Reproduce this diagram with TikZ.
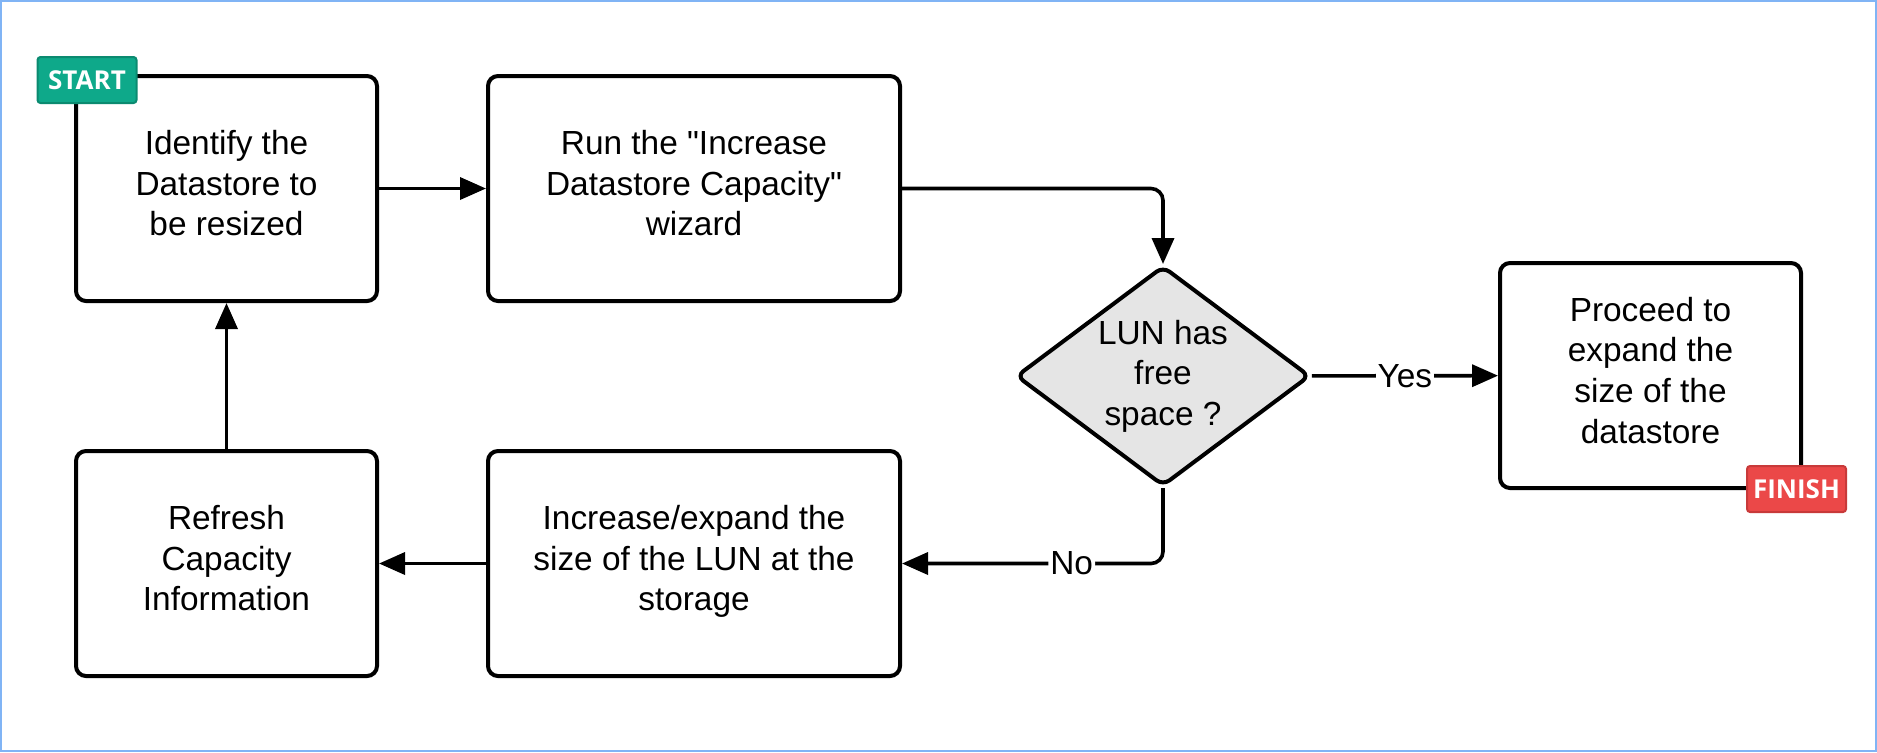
\documentclass[tikz,border=0pt]{standalone}
\usepackage{fontspec}
\setmainfont{Liberation Sans}[Ligatures=TeXOff]
\newfontfamily\badgefont{Open Sans}
\usepackage{tikz}
\usetikzlibrary{shapes.geometric,arrows.meta}
\definecolor{startgreen}{HTML}{0EA98A}
\definecolor{startedge}{HTML}{0B8A70}
\definecolor{finishred}{HTML}{EB4848}
\definecolor{finishedge}{HTML}{C83A3A}
\definecolor{frameblue}{HTML}{80B4F5}
\definecolor{decgray}{HTML}{E5E5E5}
\begin{document}
\begin{tikzpicture}[x=0.5pt, y=-0.5pt,
  procbox/.style={draw, line width=2pt, rounded corners=5pt, align=center, text depth=5.5pt,
    minimum width=150.5pt, minimum height=112.5pt, font=\fontsize{16.7}{20.3}\selectfont},
  widebox/.style={procbox, minimum width=206pt},
  decision/.style={diamond, aspect=1.336, draw, line width=2pt, rounded corners=4pt, fill=decgray,
    inner sep=0pt, minimum width=147pt, minimum height=110pt, align=center,
    font=\fontsize{16.7}{20.3}\selectfont},
  badge/.style={rounded corners=1.5pt, line width=1pt, minimum width=49.5pt,
    minimum height=23pt, inner sep=0pt, text=white, font=\badgefont\bfseries\fontsize{13}{14}\selectfont},
  flow/.style={line width=1.8pt, -{Triangle[length=13pt, width=11pt]}},
  answer/.style={fill=white, inner sep=1pt, font=\fontsize{16.7}{20.3}\selectfont}]
  \useasboundingbox (0,0) rectangle (1877,752);
  \draw[frameblue, line width=1pt] (1,1) rectangle (1876,751);

  \node[procbox] (identify) at (226.5,188.5) {Identify the\\Datastore to\\be resized};
  \node[widebox] (wizard) at (694,188.5) {Run the "Increase\\Datastore Capacity"\\wizard};
  \node[decision] (free) at (1163,376) {LUN has\\free\\space ?};
  \node[procbox] (proceed) at (1650.5,375.5) {Proceed to\\expand the\\size of the\\datastore};
  \node[widebox] (expand) at (694,563.5) {Increase/expand the\\size of the LUN at the\\storage};
  \node[procbox] (refresh) at (226.5,563.5) {Refresh\\Capacity\\Information};

  \node[badge, fill=startgreen, draw=startedge] (start) at (87,80) {START};
  \node[badge, fill=finishred, draw=finishedge] (finish) at (1796.5,489) {FINISH};

  \path[flow]
  (identify) edge (wizard)
  (free) edge node[answer]{Yes} (proceed)
  (expand) edge (refresh)
  (refresh) edge (identify);
  \draw[flow, rounded corners=6pt] (wizard.east) -| (free.north);
  \draw[flow, rounded corners=6pt] (free.south) |- node[answer, pos=0.675]{No} (expand.east);
\end{tikzpicture}
\end{document}
